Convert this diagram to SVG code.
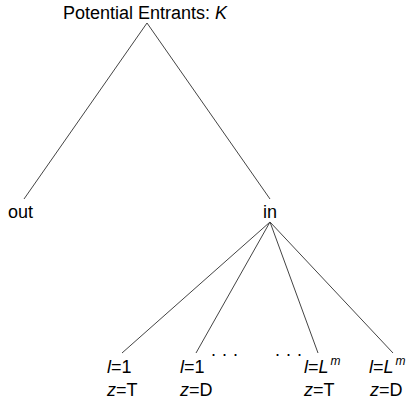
<svg xmlns="http://www.w3.org/2000/svg" width="406" height="402" viewBox="0 0 406 402">
<style>
text{font-family:"Liberation Sans",Arial,sans-serif;font-size:18px;fill:#000}
.i{font-style:italic}
.sup{font-style:italic;font-size:12px}
.dots{letter-spacing:0.5px}
#connectors line{stroke:#444;stroke-width:1;fill:none}
</style>
<rect width="406" height="402" fill="#fff"/>
<g id="connectors">
<line x1="147" y1="23" x2="24" y2="199"/>
<line x1="147" y1="23" x2="270" y2="199"/>
<line x1="270" y1="222" x2="122" y2="353"/>
<line x1="270" y1="222" x2="196" y2="353"/>
<line x1="270" y1="222" x2="318" y2="353"/>
<line x1="270" y1="222" x2="393" y2="353"/>
</g>
<g id="root"><text x="63" y="19">Potential Entrants: <tspan class="i">K</tspan></text></g>
<g id="out"><text x="8" y="218">out</text></g>
<g id="in"><text x="263" y="218">in</text></g>
<g id="leaf1"><text x="107" y="373"><tspan class="i">l</tspan>=1</text><text x="107" y="396"><tspan class="i">z</tspan>=T</text></g>
<g id="leaf2"><text x="180" y="373"><tspan class="i">l</tspan>=1</text><text x="180" y="396"><tspan class="i">z</tspan>=D</text></g>
<g id="dots1"><text class="dots" x="211" y="356">. . .</text></g>
<g id="dots2"><text class="dots" x="275" y="356">. . .</text></g>
<g id="leaf3"><text x="304" y="373"><tspan class="i">l</tspan>=<tspan class="i">L</tspan><tspan class="sup" dx="2" dy="-8">m</tspan></text><text x="304" y="396"><tspan class="i">z</tspan>=T</text></g>
<g id="leaf4"><text x="369" y="373"><tspan class="i">l</tspan>=<tspan class="i">L</tspan><tspan class="sup" dx="2" dy="-8">m</tspan></text><text x="370" y="396"><tspan class="i">z</tspan>=D</text></g>
</svg>
